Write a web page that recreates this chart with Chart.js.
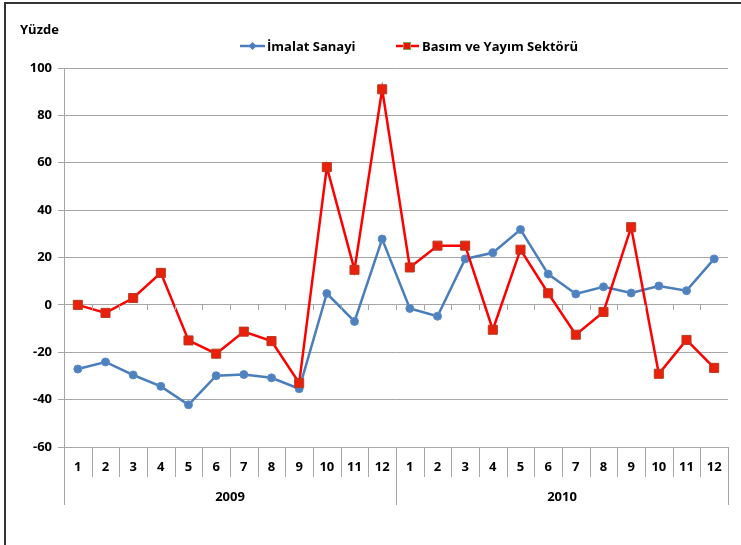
<!DOCTYPE html>
<html>
<head>
<meta charset="utf-8">
<script src="https://cdn.jsdelivr.net/npm/chart.js@4/dist/chart.umd.min.js"></script>
<style>
html,body{margin:0;padding:0;background:#fff;}
#wrap{position:relative;width:741px;height:545px;}
</style>
</head>
<body>
<div id="wrap"><canvas id="c" width="741" height="545"></canvas></div>
<script>
const months = ['1','2','3','4','5','6','7','8','9','10','11','12','1','2','3','4','5','6','7','8','9','10','11','12'];
const years = ['2009','2010'];
const seriesNames = ['İmalat Sanayi','Basım ve Yayım Sektörü'];
const imalat = [-27.1,-24.1,-29.6,-34.4,-42.2,-29.9,-29.4,-30.8,-35.4,4.8,-7.0,27.8,
                -1.5,-4.8,19.4,22.0,31.8,13.0,4.6,7.6,5.0,8.0,6.0,19.4];
const basim  = [0.0,-3.4,2.9,13.5,-15.0,-20.6,-11.3,-15.3,-33.0,58.2,14.8,91.0,
                15.8,25.0,25.0,-10.5,23.3,4.9,-12.6,-3.0,32.8,-29.1,-14.8,-26.6];
const yTicks = {min:-60, max:100, step:20};
const yUnit = 'Yüzde';

const FONT = "'Open Sans', sans-serif";
const BLUE = '#4a7ebb';
const RED = '#ff0000';
const GRID = '#a6a6a6';

const decor = {
  id:'decor',
  beforeDraw(chart){
    const ctx = chart.ctx;
    ctx.save();
    ctx.fillStyle = '#fff';
    ctx.fillRect(0,0,chart.width,chart.height);
    ctx.restore();
  },
  afterDraw(chart){
    const ctx = chart.ctx;
    const x = chart.scales.x, y = chart.scales.y;
    const ca = chart.chartArea;
    const band = x.getPixelForValue(1) - x.getPixelForValue(0);
    const y0 = y.getPixelForValue(0);
    ctx.save();
    // outer frame (top + left)
    ctx.strokeStyle = '#333';
    ctx.lineWidth = 2;
    ctx.beginPath();
    ctx.moveTo(5, chart.height); ctx.lineTo(5, 3); ctx.lineTo(chart.width, 3);
    ctx.stroke();
    // category separators
    ctx.strokeStyle = GRID;
    ctx.lineWidth = 1;
    for (let i = 0; i <= months.length; i++){
      const bx = Math.round(x.getPixelForValue(0) - band/2 + i*band) + 0.5;
      const isYear = (i % 12 === 0);
      ctx.beginPath();
      ctx.moveTo(bx, ca.bottom);
      ctx.lineTo(bx, isYear ? ca.bottom + 58 : ca.bottom + 30);
      ctx.stroke();
      // small ticks on zero line
      if (i > 0 && i < months.length){
        ctx.beginPath();
        ctx.moveTo(bx, Math.round(y0));
        ctx.lineTo(bx, Math.round(y0) + 5);
        ctx.stroke();
      }
    }
    // year labels
    ctx.fillStyle = '#000';
    ctx.font = "bold 13px " + FONT;
    ctx.textAlign = 'center';
    ctx.textBaseline = 'middle';
    years.forEach((yr, k) => {
      const a = x.getPixelForValue(k*12) - band/2;
      const b = x.getPixelForValue(k*12 + 11) + band/2;
      ctx.fillText(yr, (a+b)/2, ca.bottom + 50);
    });
    // unit label
    ctx.textAlign = 'left';
    ctx.fillText(yUnit, 20, 30);
    // legend
    const ly = 46;
    ctx.lineWidth = 2.5;
    ctx.strokeStyle = BLUE;
    ctx.beginPath(); ctx.moveTo(240, ly); ctx.lineTo(265, ly); ctx.stroke();
    ctx.fillStyle = BLUE;
    ctx.beginPath(); ctx.moveTo(252.5, ly-4); ctx.lineTo(256.5, ly); ctx.lineTo(252.5, ly+4); ctx.lineTo(248.5, ly); ctx.closePath(); ctx.fill();
    ctx.strokeStyle = RED;
    ctx.beginPath(); ctx.moveTo(396, ly); ctx.lineTo(419, ly); ctx.stroke();
    ctx.fillStyle = '#e01a0a';
    ctx.fillRect(403, ly-4, 8, 8);
    ctx.strokeStyle = '#8aa04a';
    ctx.lineWidth = 1;
    ctx.strokeRect(403.5, ly-3.5, 7, 7);
    ctx.fillStyle = '#000';
    ctx.font = "bold 13px " + FONT;
    ctx.fillText(seriesNames[0], 267, ly+1);
    ctx.fillText(seriesNames[1], 422, ly+1);
    ctx.restore();
  }
};

new Chart(document.getElementById('c'), {
  type:'line',
  data:{
    labels: months,
    datasets:[
      {label: seriesNames[0], data: imalat, borderColor: BLUE, backgroundColor: BLUE,
       borderWidth: 2.5, pointStyle:'circle', pointRadius: 4, pointBorderWidth: 1,
       pointBorderColor:'#5b8ccc', pointBackgroundColor:'#4f81bd', tension:0, order:2},
      {label: seriesNames[1], data: basim, borderColor: RED, backgroundColor: RED,
       borderWidth: 2.5, pointStyle:'rect', pointRadius: 6.4, pointBorderWidth: 1,
       pointBorderColor:'#b83a20', pointBackgroundColor:'#e8200c', tension:0, order:1}
    ]
  },
  options:{
    responsive:false,
    animation:false,
    devicePixelRatio:1,
    layout:{padding:{left:30, top:68, right:13, bottom:0}},
    plugins:{legend:{display:false}, tooltip:{enabled:false}, title:{display:false}},
    scales:{
      x:{
        type:'category',
        offset:true,
        grid:{display:false, drawTicks:false},
        border:{display:true, color:GRID},
        ticks:{color:'#000', font:{family:FONT, size:13, weight:'bold'}, padding:12, maxRotation:0, autoSkip:false},
        afterFit(s){ s.height = 98; }
      },
      y:{
        min:yTicks.min, max:yTicks.max,
        grid:{color:GRID, lineWidth:1, tickLength:6, drawTicks:true},
        border:{display:true, color:GRID},
        ticks:{stepSize:yTicks.step, color:'#000', font:{family:FONT, size:13, weight:'bold'}, padding:6},
        afterFit(s){ s.width = 34; }
      }
    }
  },
  plugins:[decor]
});
</script>
</body>
</html>
